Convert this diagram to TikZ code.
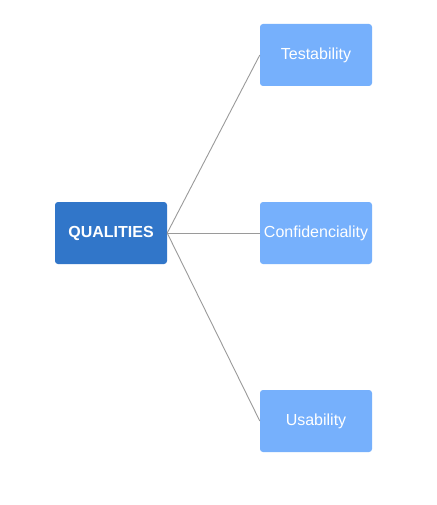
\documentclass[tikz,border=0pt]{standalone}
\usepackage{fontspec}
\setmainfont{Liberation Sans}
\definecolor{darkbox}{HTML}{3176C9}
\definecolor{lightbox}{HTML}{76B0FC}
\definecolor{linkgray}{HTML}{9A9A9A}
\begin{document}
\begin{tikzpicture}[x=1pt,y=-1pt,
  box/.style={rounded corners=3pt, minimum width=112pt, minimum height=62pt, inner sep=0pt, text=white, font=\fontsize{16}{19}\selectfont},
  rootbox/.style={box, fill=darkbox, font=\fontsize{16}{19}\selectfont\bfseries},
  leafbox/.style={box, fill=lightbox},
  link/.style={draw=linkgray, line width=0.9pt}]
\useasboundingbox[fill=white] (0,0) rectangle (436,505);
\node[rootbox] (q) at (111,233) {QUALITIES};
\node[leafbox] (t) at (316,55) {Testability};
\node[leafbox] (c) at (316,233) {Confidenciality};
\node[leafbox] (u) at (316,421) {Usability};
\draw[link] (q.east) -- (t.west);
\draw[link] (q.east) -- (c.west);
\draw[link] (q.east) -- (u.west);
\end{tikzpicture}
\end{document}
